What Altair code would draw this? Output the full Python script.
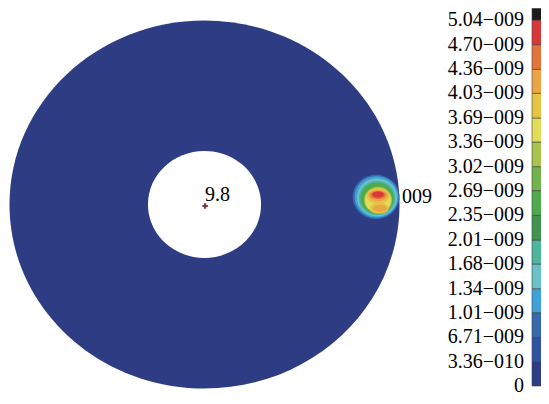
import altair as alt
import pandas as pd

# ---------------- data ----------------
# annulus (units of outer radius)
ring_x = [0.0]
ring_y = [0.0]
ring_r = [1.0]
ring_v = [0.0]
hole_r = [0.29]

# hot-spot contour blobs (outer -> inner)
blob_x = [0.880, 0.882, 0.885, 0.885, 0.885, 0.890, 0.890, 0.890, 0.897, 0.890, 0.900, 0.890, 0.890]
blob_y = [0.041, 0.041, 0.038, 0.035, 0.035, 0.024, 0.022, 0.046, -0.019, 0.049, -0.021, 0.052, 0.054]
blob_r = [0.120, 0.112, 0.103, 0.094, 0.085, 0.072, 0.066, 0.058, 0.048, 0.050, 0.036, 0.040, 0.030]
blob_v = [0.85, 1.2, 1.5, 1.85, 2.5, 3.2, 3.5, 3.85, 3.85, 4.2, 4.2, 4.5, 4.85]
blob_s = ["round", "round", "round", "round", "round", "round", "round",
          "oval", "flat", "flat", "flatter", "flatter", "flatter"]

# colour bar
bar_thresholds = [0.336, 0.671, 1.01, 1.34, 1.68, 2.01, 2.35, 2.69, 3.02, 3.36,
                  3.69, 4.03, 4.36, 4.70, 5.04]
bar_colors = ["#2e3c84", "#2f55a2", "#3669ad", "#3ea2d8", "#6cc1c9", "#4db69c",
              "#3f9452", "#4fa94d", "#72b34c", "#a8c44f", "#e1dc5a", "#e6c444",
              "#eca444", "#e5743a", "#d8383a", "#1c1c1c"]
bar_lo = [0.0] + bar_thresholds
bar_hi = bar_thresholds + [5.20]
bar_labels = ["5.04\u2212009", "4.70\u2212009", "4.36\u2212009", "4.03\u2212009",
              "3.69\u2212009", "3.36\u2212009", "3.02\u2212009", "2.69\u2212009",
              "2.35\u2212009", "2.01\u2212009", "1.68\u2212009", "1.34\u2212009",
              "1.01\u2212009", "6.71\u2212009", "3.36\u2212010", "0"]
bar_label_pos = [5.04, 4.70, 4.36, 4.03, 3.69, 3.36, 3.02, 2.69, 2.35, 2.01,
                 1.68, 1.34, 1.01, 0.671, 0.336, 0.0]

# annotations
ann_text = ["9.8", "009"]
ann_x = [0.003, 1.013]
ann_y = [0.019, 0.008]
center_x = [0.003]
center_y = [-0.008]

# ---------------- scales ----------------
K = 0.944


def ellipse(k):
    return f"M -1 0 A 1 {k} 0 1 1 1 0 A 1 {k} 0 1 1 -1 0 Z"


shape_names = ["round", "oval", "flat", "flatter"]
shape_paths = [ellipse(K), ellipse(0.72), ellipse(0.6), ellipse(0.52)]

xs = alt.Scale(domain=[-1, 1], range=[1.5, 391.5])
ys = alt.Scale(domain=[-1, 1], range=[380.5, 12.5])
size_s = alt.Scale(type="pow", exponent=2, domain=[0, 1], range=[0, 152100])
shape_s = alt.Scale(domain=shape_names, range=shape_paths)
color_s = alt.Scale(type="threshold", domain=bar_thresholds, range=bar_colors)
bar_ys = alt.Scale(domain=[0, 5.04], range=[378, 12])

ring_df = pd.DataFrame({"x": ring_x, "y": ring_y, "r": ring_r, "v": ring_v,
                        "shape": ["round"]})
hole_df = pd.DataFrame({"x": ring_x, "y": ring_y, "r": hole_r, "shape": ["round"]})
blob_df = pd.DataFrame({"x": blob_x, "y": blob_y, "r": blob_r, "v": blob_v,
                        "shape": blob_s, "o": list(range(len(blob_x)))})
bar_df = pd.DataFrame({"lo": bar_lo, "hi": bar_hi,
                       "v": [(a + b) / 2 for a, b in zip(bar_lo, bar_hi)]})
lab_df = pd.DataFrame({"pos": bar_label_pos, "label": bar_labels})
ann_df = pd.DataFrame({"x": ann_x, "y": ann_y, "t": ann_text})
cen_df = pd.DataFrame({"x": center_x, "y": center_y})

X = alt.X("x:Q", scale=xs, axis=None)
Y = alt.Y("y:Q", scale=ys, axis=None)
S = alt.Size("r:Q", scale=size_s, legend=None)
SH = alt.Shape("shape:N", scale=shape_s, legend=None)
C = alt.Color("v:Q", scale=color_s, legend=None)

ring = alt.Chart(ring_df).mark_point(filled=True, opacity=1, strokeWidth=0).encode(
    x=X, y=Y, size=S, shape=SH, color=C)
blobs = alt.Chart(blob_df).mark_point(filled=True, opacity=1, strokeWidth=0).encode(
    x=X, y=Y, size=S, shape=SH, color=C, order=alt.Order("o:Q"))
hole = alt.Chart(hole_df).mark_point(filled=True, opacity=1, strokeWidth=0).encode(
    x=X, y=Y, size=S, shape=SH, color=alt.value("white"))
center = alt.Chart(cen_df).mark_point(shape="cross", filled=True, opacity=1,
                                      size=30, strokeWidth=0).encode(
    x=X, y=Y, color=alt.value("#7a3550"))
ann = alt.Chart(ann_df).mark_text(align="left", baseline="alphabetic",
                                  font="Liberation Serif", fontSize=20,
                                  color="black").encode(x=X, y=Y, text="t:N")

bar = alt.Chart(bar_df).mark_rect(stroke="#3a3a3a", strokeWidth=0.8,
                                  strokeOpacity=0.7).encode(
    y=alt.Y("lo:Q", scale=bar_ys, axis=None), y2="hi:Q",
    x=alt.value(524), x2=alt.value(536), color=C)
labels = alt.Chart(lab_df).mark_text(
    align="right", baseline="middle", font="Liberation Serif", fontSize=20,
    color="black").encode(
    y=alt.Y("pos:Q", scale=bar_ys, axis=None), x=alt.value(516), text="label:N")

chart = alt.layer(ring, blobs, hole, center, ann, bar, labels).resolve_scale(
    y="independent", x="independent"
).properties(
    width=533, height=388, padding=0,
    autosize=alt.AutoSizeParams(type="none"),
    background="white",
).configure_view(stroke=None)

chart.save("out.html", embed_options={"renderer": "svg", "actions": False})
